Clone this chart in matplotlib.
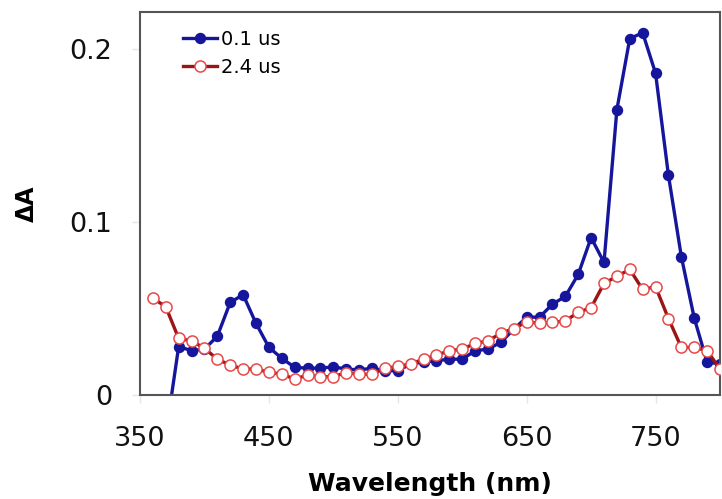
import numpy as np
import matplotlib
matplotlib.use("Agg")
import matplotlib.pyplot as plt

# Transient absorption spectra at two delay times
wl_fast = [370, 380, 390, 400, 410, 420, 430, 440, 450, 460, 470, 480, 490,
           500, 510, 520, 530, 540, 550, 560, 570, 580, 590, 600, 610, 620,
           630, 640, 650, 660, 670, 680, 690, 700, 710, 720, 730, 740, 750,
           760, 770, 780, 790, 800]
dA_fast = [-0.023, 0.028, 0.0256, 0.0265, 0.034, 0.0535, 0.058, 0.0414, 0.0276,
           0.0212, 0.016, 0.0155, 0.0155, 0.0163, 0.015, 0.0145, 0.0155, 0.014,
           0.014, 0.018, 0.019, 0.0198, 0.0207, 0.0207, 0.0256, 0.0265, 0.0305,
           0.038, 0.045, 0.045, 0.0525, 0.057, 0.0697, 0.091, 0.0766, 0.165,
           0.206, 0.2094, 0.186, 0.127, 0.080, 0.0445, 0.019, 0.018]

wl_slow = [360, 370, 380, 390, 400, 410, 420, 430, 440, 450, 460, 470, 480,
           490, 500, 510, 520, 530, 540, 550, 560, 570, 580, 590, 600, 610,
           620, 630, 640, 650, 660, 670, 680, 690, 700, 710, 720, 730, 740,
           750, 760, 770, 780, 790, 800]
dA_slow = [0.056, 0.051, 0.0327, 0.0313, 0.027, 0.0207, 0.0173, 0.015, 0.015,
           0.0131, 0.0121, 0.0092, 0.0115, 0.0106, 0.0106, 0.013, 0.012, 0.012,
           0.0154, 0.0165, 0.018, 0.0207, 0.023, 0.0256, 0.0265, 0.0298, 0.0313,
           0.0357, 0.0384, 0.0423, 0.0415, 0.042, 0.0428, 0.0478, 0.0505, 0.0645,
           0.0686, 0.0726, 0.061, 0.0626, 0.0442, 0.0275, 0.0275, 0.0256, 0.015]

series_labels = ["0.1 us", "2.4 us"]
x_ticks = [350, 450, 550, 650, 750]
y_ticks = [0, 0.1, 0.2]
y_tick_labels = ["0", "0.1", "0.2"]

W, H = 722, 499
fig = plt.figure(figsize=(W / 100, H / 100), dpi=100)
ax = fig.add_axes([140 / W, 1 - 395 / H, 580 / W, 383 / H])

ax.plot(wl_fast, dA_fast, color="#16169c", lw=2.4, marker="o", ms=7.2,
        mfc="#16169c", mec="#16169c", label=series_labels[0], zorder=2)
ax.plot(wl_slow, dA_slow, color="#9c1414", lw=2.4, marker="o", ms=8,
        mfc="white", mec="#e84848", mew=1.1, label=series_labels[1], zorder=3)

ax.set_xlim(350, 800)
ax.set_ylim(0, 0.2214)
ax.set_xticks(x_ticks)
ax.set_yticks(y_ticks)
ax.set_yticklabels(y_tick_labels)

for s in ax.spines.values():
    s.set_color("#555555")
    s.set_linewidth(1.5)

ax.tick_params(axis="both", direction="out", length=6, width=1,
               color="#e6e6e6", labelsize=19.5, labelcolor="#111111")
ax.tick_params(axis="x", pad=16)
ax.tick_params(axis="y", pad=14)

ax.set_xlabel("Wavelength (nm)", fontsize=18, fontweight="bold", labelpad=15)
ax.set_ylabel("ΔA", fontsize=17, fontweight="bold", labelpad=22)

leg = ax.legend(loc="upper left", bbox_to_anchor=(183 / W, 1 - 30 / H),
                bbox_transform=fig.transFigure, frameon=False, fontsize=14,
                handlelength=1.75, handletextpad=0.2, labelspacing=0.45,
                borderaxespad=0, borderpad=0)

fig.savefig("out.png", dpi=100)
